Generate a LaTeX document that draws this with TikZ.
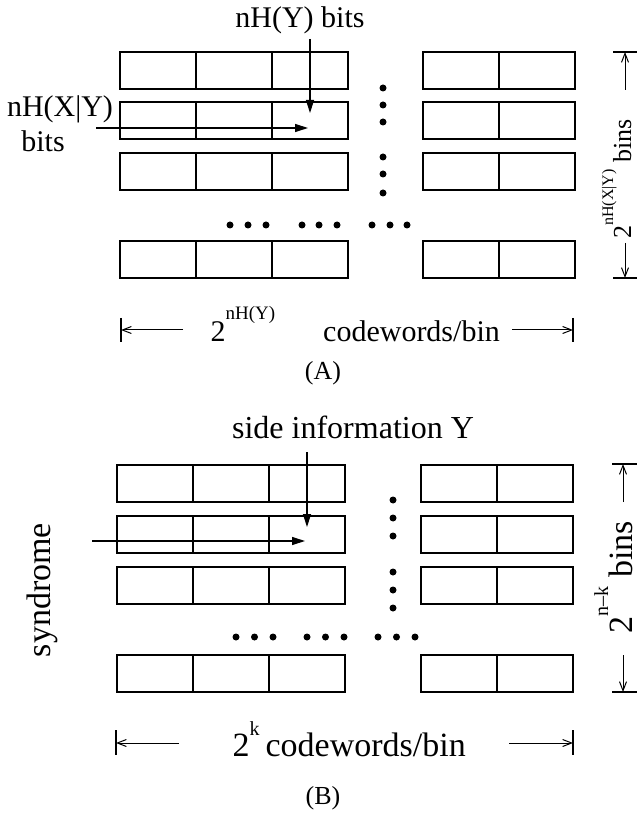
\documentclass[tikz,border=0pt]{standalone}
\usepackage{fontspec}
\setmainfont{Liberation Serif}
\usetikzlibrary{arrows.meta}

\begin{document}
\begin{tikzpicture}[x=0.5pt,y=-0.5pt,line width=0.6pt,
    dimarrow/.style={-{Straight Barb[length=4.5pt,width=3.5pt]},line width=0.5pt},
    ptarrow/.style={-{Triangle[length=6.5pt,width=4pt]}},
    txtA/.style={font=\fontsize{15}{18}\selectfont,inner sep=0pt},
    txtB/.style={font=\fontsize{17}{20}\selectfont,inner sep=0pt}]
    \useasboundingbox (0,0) rectangle (637,817);

    % ---------- (A) ----------
    \foreach \y in {52,102,153,241}{
        \foreach \x in {120,196,272}
            \draw (\x,\y) rectangle +(76,37);
        \foreach \x in {423,499}
            \draw (\x,\y) rectangle +(76,37);
    }
    \foreach \y in {88,105,122,157,174,193}
        \fill (383,\y) circle (1.75pt);
    \foreach \x in {230,248,266,302,319,337,372,390,407}
        \fill (\x,225) circle (1.75pt);

    \node[txtA,anchor=base] (ybits) at (300,28) {nH(Y) bits};
    \node[txtA,anchor=base] (xybits) at (60,117) {nH(X|Y)};
    \node[txtA,anchor=base] (xybits2) at (43,152) {bits};
    \coordinate (ytipA) at (310,113);
    \coordinate (xtipA) at (308,128);
    \draw[ptarrow] (ytipA |- 0,39) -- (ytipA);
    \draw[ptarrow] (96,128) -- (xtipA);

    % right dimension
    \node[txtA,font=\fontsize{13}{15}\selectfont,rotate=90,anchor=base] (binsA) at (631,179)
        {2\raisebox{9pt}{\fontsize{8}{8}\selectfont nH(X|Y)} bins};
    \draw (613,52) -- (637,52);
    \draw (613,278) -- (637,278);
    \draw[dimarrow] (625,90) -- (625,52);
    \draw[dimarrow] (625,243) -- (625,278);

    % bottom dimension
    \node[txtA,anchor=base west] (cwA) at (210,342)
        {2\raisebox{11pt}{\fontsize{9.5}{10}\selectfont nH(Y)}\hspace{24pt}codewords/bin};
    \draw (121,318) -- (121,342);
    \draw (573,318) -- (573,342);
    \draw[dimarrow] (183,330) -- (121,330);
    \draw[dimarrow] (512,330) -- (573,330);

    \node[font=\fontsize{13}{15}\selectfont] (capA) at (323,373) {(A)};

    % ---------- (B) ----------
    \foreach \y in {465,516,567,655}{
        \foreach \x in {117,193,269}
            \draw (\x,\y) rectangle +(76,37);
        \foreach \x in {421,497}
            \draw (\x,\y) rectangle +(76,37);
    }
    \foreach \y in {500,518,536,572,590,608}
        \fill (393,\y) circle (1.75pt);
    \foreach \x in {236,254.5,273,307,325.5,344,378,396.5,415}
        \fill (\x,637) circle (1.75pt);

    \node[txtB,font=\fontsize{16}{19}\selectfont,anchor=base] (sideinfo) at (353,438) {side information Y};
    \node[txtB,rotate=90] (syndrome) at (42,590) {syndrome};
    \coordinate (ytipB) at (307,527);
    \coordinate (xtipB) at (305,541);
    \draw[ptarrow] (ytipB |- 0,452) -- (ytipB);
    \draw[ptarrow] (92,541) -- (xtipB);

    % right dimension
    \node[txtB,rotate=90,anchor=base] (binsB) at (632,577)
        {2\raisebox{12pt}{\fontsize{10}{10}\selectfont n\textendash k} bins};
    \draw (612,464) -- (637,464);
    \draw (612,692) -- (637,692);
    \draw[dimarrow] (623,502) -- (623,464);
    \draw[dimarrow] (623,655) -- (623,692);

    % bottom dimension
    \node[txtB,anchor=base west] (cwB) at (232,756)
        {2\raisebox{10.5pt}{\fontsize{10}{10}\selectfont k}\hspace{3pt}codewords/bin};
    \draw (116,730) -- (116,755);
    \draw (573,730) -- (573,755);
    \draw[dimarrow] (179,743) -- (116,743);
    \draw[dimarrow] (509,743) -- (573,743);

    \node[font=\fontsize{13}{15}\selectfont] (capB) at (323,798) {(B)};
\end{tikzpicture}
\end{document}
